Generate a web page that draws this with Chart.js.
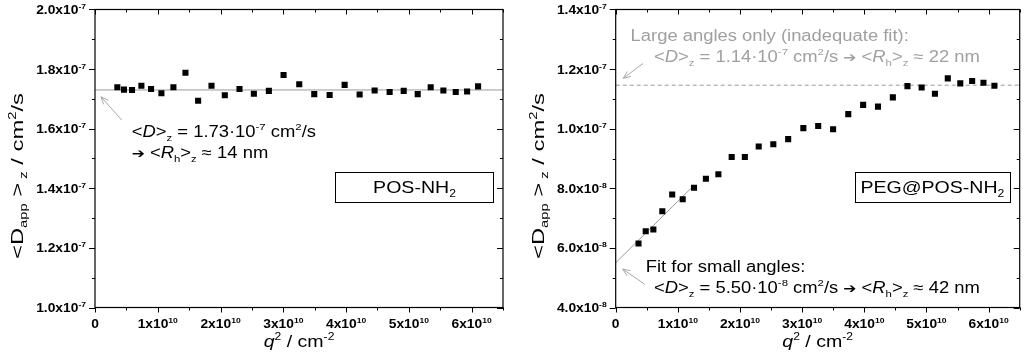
<!DOCTYPE html>
<html><head><meta charset="utf-8">
<script src="https://cdn.jsdelivr.net/npm/chart.js@4.4.1/dist/chart.umd.min.js"></script>
<style>
html,body{margin:0;padding:0;background:#fff;}
#wrap{position:relative;width:1024px;height:363px;overflow:hidden;background:#fff;}
canvas{position:absolute;top:0;}
</style></head>
<body><div id="wrap"><canvas id="c1" width="512" height="363" style="left:0"></canvas><canvas id="c2" width="512" height="363" style="left:512px"></canvas></div>
<script>
// ---- data (q^2 in units of 1e10 cm^-2, D in units of 1e-7 cm^2/s) ----
const leftQ2 = [0.356,0.462,0.590,0.739,0.893,1.058,1.249,1.441,1.643,1.856,2.068,2.302,2.531,2.770,3.004,3.254,3.493,3.738,3.977,4.216,4.455,4.694,4.918,5.141,5.348,5.550,5.747,5.928,6.103];
const leftD  = [1.739,1.731,1.730,1.744,1.733,1.719,1.739,1.788,1.694,1.744,1.712,1.733,1.717,1.727,1.780,1.749,1.716,1.713,1.747,1.715,1.728,1.723,1.727,1.716,1.739,1.728,1.723,1.725,1.742];
const rightQ2 = [0.367,0.483,0.606,0.750,0.909,1.078,1.260,1.451,1.652,1.866,2.078,2.301,2.536,2.775,3.019,3.258,3.498,3.742,3.981,4.220,4.459,4.694,4.922,5.136,5.343,5.544,5.735,5.917,6.093];
const rightD  = [0.615,0.656,0.662,0.723,0.779,0.763,0.802,0.832,0.847,0.905,0.905,0.940,0.948,0.965,1.002,1.009,0.998,1.049,1.080,1.074,1.105,1.143,1.138,1.117,1.169,1.152,1.160,1.154,1.144];
// fits
const leftFitX = [0, 6.5];  const leftFitY = [1.73, 1.73];
const rightLargeX = [0, 6.5]; const rightLargeY = [1.146, 1.146];
const rightSmallX = [0, 1.24]; const rightSmallY = [0.550, 0.806];
// ticks
const xTicks = [0,1,2,3,4,5,6];
const xTickLabels = ['0','1x10^10','2x10^10','3x10^10','4x10^10','5x10^10','6x10^10'];
const leftYTicks = [1.0,1.2,1.4,1.6,1.8,2.0];
const leftYTickLabels = ['1.0x10^-7','1.2x10^-7','1.4x10^-7','1.6x10^-7','1.8x10^-7','2.0x10^-7'];
const rightYTicks = [0.4,0.6,0.8,1.0,1.2,1.4];
const rightYTickLabels = ['4.0x10^-8','6.0x10^-8','8.0x10^-8','1.0x10^-7','1.2x10^-7','1.4x10^-7'];

const SX = 1.15; // horizontal text stretch
const FONT = '"Liberation Sans", Arial, sans-serif';
const AFONT = '"DejaVu Sans", sans-serif';

function fontOf(s, fs){
  const size = s.p==='sub'||s.p==='sup' ? fs*0.62 : (s.s ? fs*s.s : fs);
  return (s.i?'italic ':'') + (s.b?'bold ':'') + size + 'px ' + (s.f||FONT);
}
function segWidth(ctx, segs, fs){
  let w=0;
  for(const s of segs){ ctx.font = fontOf(s,fs); w += ctx.measureText(s.t).width; }
  return w;
}
function drawRich(ctx, x, y, segs, fs, opt){
  opt = opt||{};
  const sx = opt.sx||SX;
  ctx.save();
  ctx.translate(x,y);
  if(opt.rot) ctx.rotate(opt.rot);
  ctx.scale(sx,1);
  ctx.fillStyle = opt.color||'#000';
  ctx.textBaseline='alphabetic';
  ctx.textAlign='left';
  const w = segWidth(ctx, segs, fs);
  let cx = opt.align==='center' ? -w/2 : opt.align==='right' ? -w : 0;
  for(const s of segs){
    ctx.font = fontOf(s,fs);
    const dy = s.p==='sub' ? fs*0.25 : s.p==='sup' ? -fs*0.42 : 0;
    ctx.fillText(s.t, cx, dy);
    cx += ctx.measureText(s.t).width;
  }
  ctx.restore();
}
function tickSegs(lbl){
  const parts = lbl.split('^');
  const segs=[{t:parts[0],b:true}];
  if(parts[1]) segs.push({t:parts[1],b:true,p:'sup'});
  return segs;
}
function arrow(ctx, x1,y1,x2,y2,color){
  ctx.save();
  ctx.strokeStyle=color; ctx.lineWidth=1;
  ctx.beginPath(); ctx.moveTo(x1,y1); ctx.lineTo(x2,y2); ctx.stroke();
  const a=Math.atan2(y2-y1,x2-x1), L=8, h=0.4;
  ctx.beginPath();
  ctx.moveTo(x2-L*Math.cos(a-h), y2-L*Math.sin(a-h));
  ctx.lineTo(x2,y2);
  ctx.lineTo(x2-L*Math.cos(a+h), y2-L*Math.sin(a+h));
  ctx.stroke();
  ctx.restore();
}
const ARW = {t:'➔', f:AFONT, s:0.85};

function makeDecor(cfg){
  return {
    id:'decor',
    afterDraw(chart){
      const ctx=chart.ctx, a=chart.chartArea, xs=chart.scales.x, ys=chart.scales.y;
      ctx.save();
      ctx.strokeStyle='#000'; ctx.lineWidth=1.2;
      ctx.strokeRect(a.left, a.top, a.right-a.left, a.bottom-a.top);
      ctx.lineWidth=1;
      ctx.beginPath();
      for(let v=xs.min; v<=xs.max+1e-9; v+=0.5){
        const px=Math.round(xs.getPixelForValue(v))+0.5;
        const major = Math.abs(v-Math.round(v))<1e-6;
        const L = major?5:3;
        ctx.moveTo(px,a.bottom); ctx.lineTo(px,a.bottom+L);
        ctx.moveTo(px,a.top); ctx.lineTo(px,a.top+L);
      }
      for(let v=ys.min; v<=ys.max+1e-9; v+=0.1){
        const py=Math.round(ys.getPixelForValue(v))+0.5;
        const major = Math.abs(Math.round(v*10)%2)===0;
        const L = major?6:3;
        ctx.moveTo(a.left,py); ctx.lineTo(a.left-L,py);
        ctx.moveTo(a.right,py); ctx.lineTo(a.right-L,py);
      }
      ctx.stroke();
      xTicks.forEach((v,i)=>{
        drawRich(ctx, xs.getPixelForValue(v), 328, tickSegs(xTickLabels[i]), 12, {align:'center'});
      });
      cfg.yTicks.forEach((v,i)=>{
        drawRich(ctx, a.left-9, ys.getPixelForValue(v)+4.5, tickSegs(cfg.yLabels[i]), 12, {align:'right'});
      });
      drawRich(ctx, (a.left+a.right)/2, 347, [{t:'q',i:true},{t:'2',p:'sup'},{t:' / cm'},{t:'-2',p:'sup'}], 17, {align:'center'});
      drawRich(ctx, a.left-72, 176, [{t:'<D'},{t:'app',p:'sub'},{t:' >'},{t:' z',p:'sub'},{t:' / cm'},{t:'2',p:'sup'},{t:'/s'}], 17, {align:'center', rot:-Math.PI/2, sx:1.4});
      const P=(q,d)=>[xs.getPixelForValue(q), ys.getPixelForValue(d)];
      for(const ar of cfg.arrows){
        const [x1,y1]=P(ar[0],ar[1]), [x2,y2]=P(ar[2],ar[3]);
        arrow(ctx,x1,y1,x2,y2,'#a8a8a8');
      }
      for(const t of cfg.texts){
        const [x,y]=P(t.q,t.d);
        drawRich(ctx,x,y,t.segs,16,{color:t.color});
      }
      const [bx1,by1]=P(cfg.box[0],cfg.box[2]), [bx2,by2]=P(cfg.box[1],cfg.box[3]);
      ctx.fillStyle='#fff'; ctx.fillRect(bx1,by1,bx2-bx1,by2-by1);
      ctx.strokeStyle='#000'; ctx.lineWidth=1;
      ctx.strokeRect(Math.round(bx1)+0.5,Math.round(by1)+0.5,Math.round(bx2-bx1),Math.round(by2-by1));
      drawRich(ctx,(bx1+bx2)/2,(by1+by2)/2+6,cfg.boxSegs,17,{align:'center'});
      ctx.restore();
    }
  };
}

function pts(xa,ya){ return xa.map((x,i)=>({x:x,y:ya[i]})); }

function buildChart(id, cfg){
  return new Chart(document.getElementById(id), {
    type:'scatter',
    data:{datasets:[
      {data:pts(cfg.qx,cfg.dy), pointStyle:'rect', pointRadius:4.3, backgroundColor:'#000', borderWidth:0},
      ...cfg.lines.map(l=>({type:'line', data:pts(l.x,l.y), borderColor:'#9a9a9a', borderWidth:1, pointRadius:0, borderDash:l.dash||[], fill:false, tension:0}))
    ]},
    options:{
      responsive:false, animation:false, events:[],
      layout:{padding:{top:9.5, right:cfg.padRight, left:0, bottom:0}},
      plugins:{legend:{display:false}, tooltip:{enabled:false}},
      scales:{
        x:{type:'linear', min:0, max:6.5, ticks:{display:false}, grid:{display:false}, border:{display:false},
           afterFit(s){s.height=55.5;}},
        y:{type:'linear', min:cfg.ymin, max:cfg.ymax, ticks:{display:false}, grid:{display:false}, border:{display:false},
           afterFit(s){s.width=cfg.yWidth;}}
      }
    },
    plugins:[makeDecor(cfg)]
  });
}

const gray='#a0a0a0';
buildChart('c1',{
  qx:leftQ2, dy:leftD, ymin:1.0, ymax:2.0, yWidth:95, padRight:9,
  yTicks:leftYTicks, yLabels:leftYTickLabels,
  lines:[{x:leftFitX,y:leftFitY}],
  arrows:[[0.426,1.629,0.096,1.707]],
  texts:[
    {q:0.585,d:1.572,segs:[{t:'<'},{t:'D',i:true},{t:'>'},{t:'z',p:'sub'},{t:' = 1.73·10'},{t:'-7',p:'sup'},{t:' cm'},{t:'2',p:'sup'},{t:'/s'}]},
    {q:0.585,d:1.501,segs:[ARW,{t:' <'},{t:'R',i:true},{t:'h',p:'sub'},{t:'>'},{t:'z',p:'sub'},{t:' ≈ 14 nm'}]}
  ],
  box:[3.83,6.35,1.454,1.355],
  boxSegs:[{t:'POS-NH'},{t:'2',p:'sub'}]
});
buildChart('c2',{
  qx:rightQ2, dy:rightD, ymin:0.4, ymax:1.4, yWidth:103.7, padRight:2.3,
  yTicks:rightYTicks, yLabels:rightYTickLabels,
  lines:[{x:rightLargeX,y:rightLargeY,dash:[4,3]},{x:rightSmallX,y:rightSmallY}],
  arrows:[[0.44,1.219,0.121,1.169],[0.467,0.478,0.112,0.529]],
  texts:[
    {q:0.239,d:1.294,color:gray,segs:[{t:'Large angles only (inadequate fit):'}]},
    {q:0.616,d:1.225,color:gray,segs:[{t:'<'},{t:'D',i:true},{t:'>'},{t:'z',p:'sub'},{t:' = 1.14·10'},{t:'-7',p:'sup'},{t:' cm'},{t:'2',p:'sup'},{t:'/s '},ARW,{t:' <'},{t:'R',i:true},{t:'h',p:'sub'},{t:'>'},{t:'z',p:'sub'},{t:' ≈ 22 nm'}]},
    {q:0.483,d:0.520,segs:[{t:'Fit for small angles:'}]},
    {q:0.616,d:0.450,segs:[{t:'<'},{t:'D',i:true},{t:'>'},{t:'z',p:'sub'},{t:' = 5.50·10'},{t:'-8',p:'sup'},{t:' cm'},{t:'2',p:'sup'},{t:'/s '},ARW,{t:' <'},{t:'R',i:true},{t:'h',p:'sub'},{t:'>'},{t:'z',p:'sub'},{t:' ≈ 42 nm'}]}
  ],
  box:[3.85,6.34,0.854,0.755],
  boxSegs:[{t:'PEG@POS-NH'},{t:'2',p:'sub'}]
});
</script>
</body></html>
